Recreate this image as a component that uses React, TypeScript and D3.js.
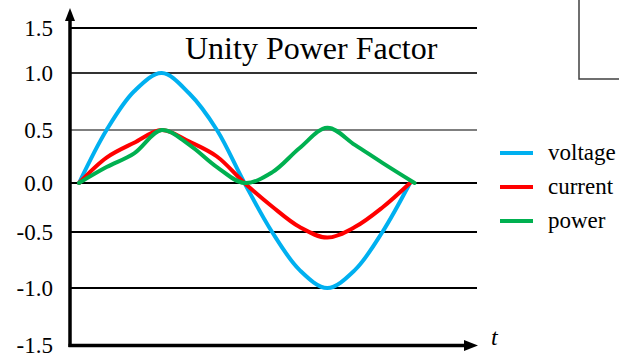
import React from "react";
import * as d3 from "d3";

const angles = [0, 30, 60, 90, 120, 150, 180, 210, 240, 270, 300, 330, 360];
const powerAngles = [0, 30, 60, 90, 120, 150, 180, 210, 240, 270, 300, 330, 365];
const voltage = [0, 0.5, 0.84, 1.0, 0.82, 0.5, 0, -0.5, -0.84, -1.0, -0.84, -0.5, 0];
const current = [0, 0.24, 0.38, 0.5, 0.39, 0.25, 0, -0.24, -0.45, -0.55, -0.45, -0.25, 0];
const power = [0, 0.15, 0.28, 0.5, 0.36, 0.15, 0, 0.1, 0.33, 0.52, 0.36, 0.19, 0];
const yTicks = [-1.5, -1.0, -0.5, 0.0, 0.5, 1.0, 1.5];
const yTickPixels = [345, 288, 232, 183, 130, 73, 28];
const gridColors = ["#000", "#000", "#000", "#000", "#7f7f7f", "#333", "#000"];
const seriesNames = ["voltage", "current", "power"];
const seriesColors = ["#00b0f0", "#ff0000", "#00b050"];
const title = "Unity Power Factor";

export default function App() {
  const x = d3.scaleLinear().domain([0, 360]).range([79, 410]);
  const y = d3.scaleLinear().domain(yTicks).range(yTickPixels);
  const series = [
    { name: seriesNames[0], xs: angles, ys: voltage, color: seriesColors[0] },
    { name: seriesNames[1], xs: angles, ys: current, color: seriesColors[1] },
    { name: seriesNames[2], xs: powerAngles, ys: power, color: seriesColors[2] },
  ];
  const line = d3
    .line<[number, number]>()
    .x((d) => x(d[0]))
    .y((d) => y(d[1]))
    .curve(d3.curveCatmullRom.alpha(0.5));
  const axisX = 70;
  const gridEnd = 477;
  const serif = { fontFamily: `"Liberation Serif"` };
  return (
    <svg
      width={619}
      height={354}
      style={{ position: "absolute", left: 0, top: 0, display: "block", background: "#fff" }}
    >
      <path d="M579,0 V79 H619" fill="none" stroke="#404040" strokeWidth={1.5} />
      {yTicks.map((t, i) =>
        t === -1.5 ? null : (
          <line
            key={"g" + i}
            x1={axisX}
            x2={gridEnd}
            y1={y(t)}
            y2={y(t)}
            stroke={gridColors[i]}
            strokeWidth={1.8}
          />
        )
      )}
      {yTicks.map((t) => (
        <text key={"l" + t} x={53} y={y(t) + 8} textAnchor="end" style={serif} fontSize={23} fill="#000">
          {t.toFixed(1)}
        </text>
      ))}
      <text x={185} y={59} style={serif} fontSize={32} fill="#000">
        {title}
      </text>
      {series.map((s) => (
        <path
          key={s.name}
          d={line(s.xs.map((a, i) => [a, s.ys[i]] as [number, number])) || ""}
          fill="none"
          stroke={s.color}
          strokeWidth={4}
          strokeLinejoin="round"
          strokeLinecap="round"
        />
      ))}
      <line x1={axisX} x2={axisX} y1={18} y2={347} stroke="#000" strokeWidth={3.5} />
      <path d={`M${axisX - 5},21 L${axisX},8 L${axisX + 5},21 Z`} fill="#000" />
      <line x1={axisX - 1.5} x2={467} y1={345.5} y2={345.5} stroke="#000" strokeWidth={3.5} />
      <path d="M464,340 L478,345.5 L464,351 Z" fill="#000" />
      <text x={491} y={345} style={{ ...serif, fontStyle: "italic" }} fontSize={24} fill="#000">
        t
      </text>
      {series.map((s, i) => {
        const ly = 153 + i * 34;
        return (
          <g key={"leg" + s.name}>
            <line x1={500} x2={533} y1={ly} y2={ly} stroke={s.color} strokeWidth={4} />
            <text x={548} y={ly + 7} style={serif} fontSize={23} fill="#000">
              {s.name}
            </text>
          </g>
        );
      })}
    </svg>
  );
}
